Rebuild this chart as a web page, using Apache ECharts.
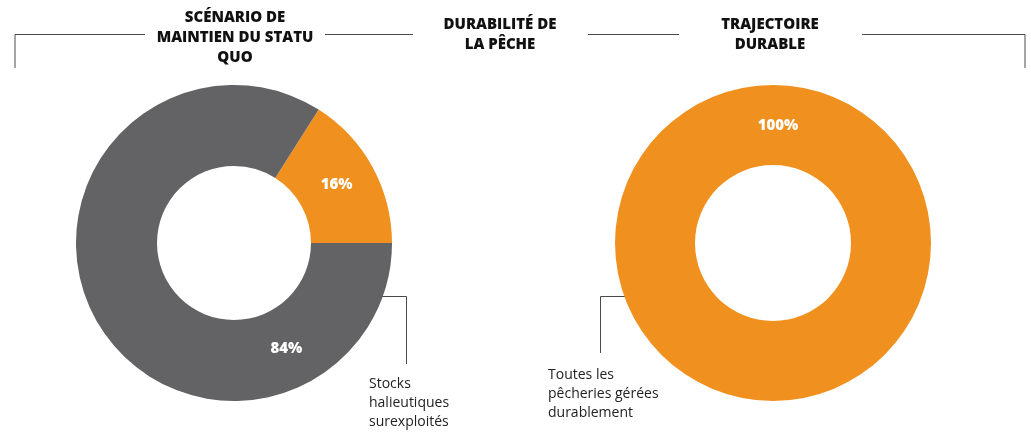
<!DOCTYPE html>
<html>
<head>
<meta charset="utf-8">
<script src="https://cdn.jsdelivr.net/npm/echarts@6/dist/echarts.min.js"></script>
<style>
  html, body { margin: 0; padding: 0; background: #fff; }
  #chart { width: 1031px; height: 440px; }
</style>
</head>
<body>
<div id="chart"></div>
<script>
// data
var statusQuoNames = ['Stocks durables', 'Stocks halieutiques surexploités']
var statusQuoValues = [16, 84]
var durableNames = ['Toutes les pêcheries gérées durablement']
var durableValues = [100]

var titles = ['SCÉNARIO DE\nMAINTIEN DU STATU\nQUO', 'DURABILITÉ DE\nLA PÊCHE', 'TRAJECTOIRE\nDURABLE']
var notes = ['Stocks\nhalieutiques\nsurexploités', 'Toutes les\npêcheries gérées\ndurablement']

var orange = '#F0901E'
var grey = '#636365'
var lineColor = '#4a4a4a'
var titleFont = '"Open Sans", Lato, sans-serif'
var noteFont = '"Open Sans", "Noto Sans", sans-serif'

function build(names, values, colors) {
    var out = []
    for (var i = 0; i < values.length; i++) {
        out.push({ name: names[i], value: values[i], itemStyle: { color: colors[i] } })
    }
    return out
}

var leftData = build(statusQuoNames, statusQuoValues, [orange, grey])
// the 84% label sits lower right in the picture, not at the slice middle
leftData[0].label = { offset: [-3, 0] }
leftData[1].label = { offset: [158, 48] }

var rightData = build(durableNames, durableValues, [orange])
rightData[0].label = { offset: [5, 4] }

var pctLabel = {
    show: true,
    position: 'inside',
    formatter: '{c}%',
    color: '#fff',
    fontFamily: titleFont,
    fontWeight: 800,
    fontSize: 15
}

function seg(points) {
    return { type: 'polyline', shape: { points: points }, style: { stroke: lineColor, lineWidth: 1, fill: null } }
}
function title(x, y, text) {
    return {
        type: 'text', x: x, y: y,
        style: { text: text, textAlign: 'center', textVerticalAlign: 'middle', fill: '#111',
                 font: '800 15px ' + titleFont, lineHeight: 20 }
    }
}
function note(x, y, text) {
    return {
        type: 'text', x: x, y: y,
        style: { text: text, fill: '#222', font: '14px ' + noteFont, lineHeight: 19 }
    }
}

var option = {
    animation: false,
    backgroundColor: '#fff',
    series: [
        {
            type: 'pie',
            center: [234, 243],
            radius: [77, 158],
            startAngle: 0,
            clockwise: false,
            silent: true,
            label: pctLabel,
            labelLine: { show: false },
            data: leftData
        },
        {
            type: 'pie',
            center: [773, 243],
            radius: [78, 158],
            startAngle: 270,
            silent: true,
            label: pctLabel,
            labelLine: { show: false },
            data: rightData
        }
    ],
    graphic: [
        seg([[15, 68], [15, 34.5], [145, 34.5]]),
        seg([[325, 34.5], [413, 34.5]]),
        seg([[588, 34.5], [679, 34.5]]),
        seg([[862, 34.5], [1025, 34.5], [1025, 68]]),
        title(235, 38, titles[0]),
        title(500, 35, titles[1]),
        title(770, 35, titles[2]),
        seg([[367, 296.5], [406.5, 296.5], [406.5, 364]]),
        seg([[638, 296.5], [600.5, 296.5], [600.5, 353]]),
        note(369, 375, notes[0]),
        note(548, 366, notes[1])
    ]
}

var chart = echarts.init(document.getElementById('chart'))
chart.setOption(option)
</script>
</body>
</html>
